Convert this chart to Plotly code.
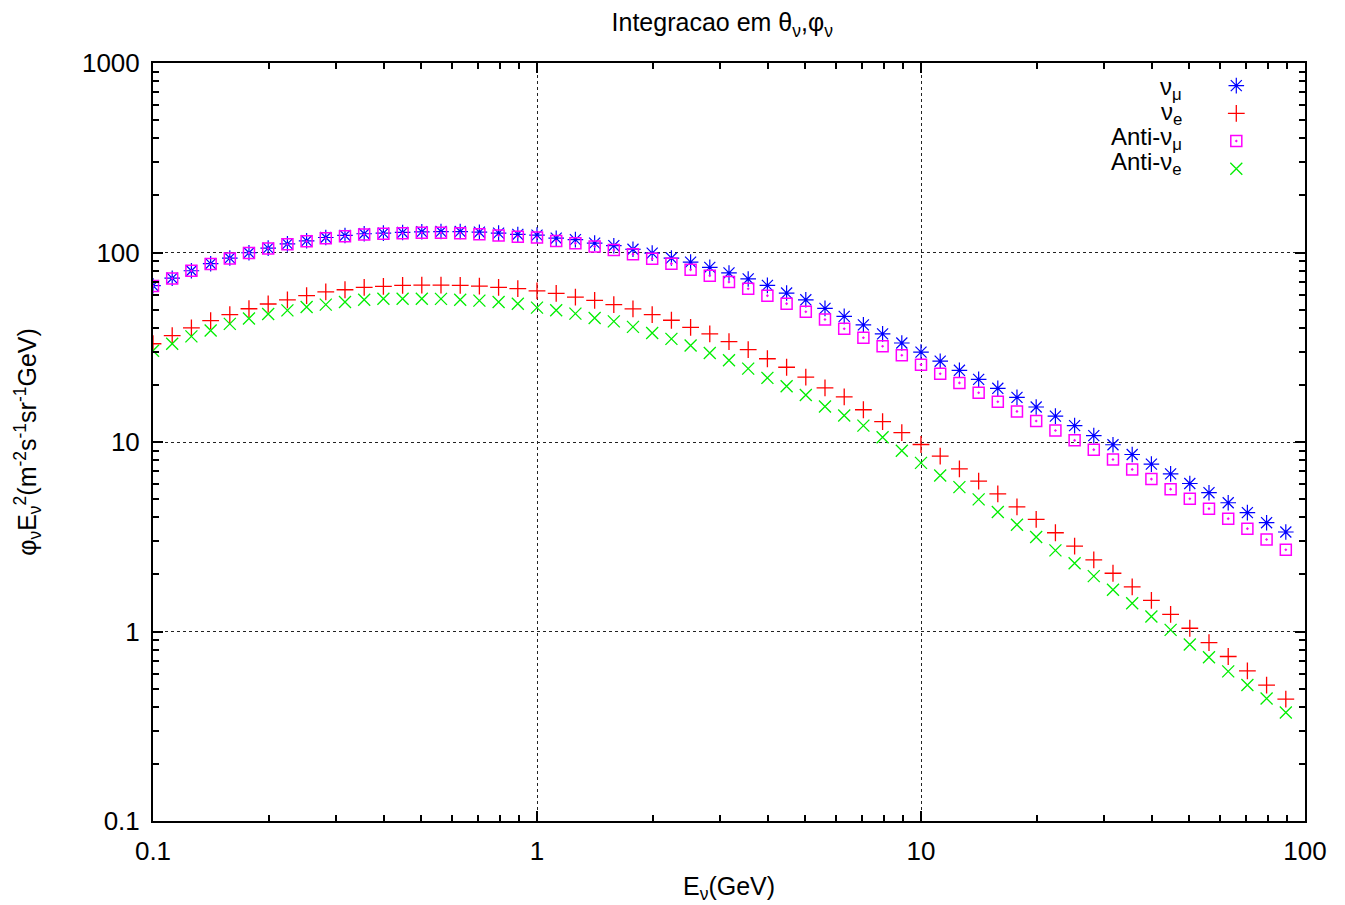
import plotly.graph_objects as go

# Energies (GeV)
energy = [0.1, 0.1122, 0.1259, 0.1413, 0.1585, 0.1778, 0.1995, 0.2239, 0.2512, 0.2818,
          0.3162, 0.3548, 0.3981, 0.4467, 0.5012, 0.5623, 0.6310, 0.7079, 0.7943, 0.8913,
          1.0, 1.122, 1.259, 1.413, 1.585, 1.778, 1.995, 2.239, 2.512, 2.818,
          3.162, 3.548, 3.981, 4.467, 5.012, 5.623, 6.310, 7.079, 7.943, 8.913,
          10.0, 11.22, 12.59, 14.13, 15.85, 17.78, 19.95, 22.39, 25.12, 28.18,
          31.62, 35.48, 39.81, 44.67, 50.12, 56.23, 63.10, 70.79, 79.43, 89.13]

nu_mu = [66.8, 73.2, 80.1, 87.3, 93.5, 99.7, 105.5, 111, 115.3, 120,
         123, 125.6, 126.6, 127.6, 128.6, 129, 129, 128, 126.6, 124.5,
         123.5, 119, 117, 112, 108.6, 104, 99.3, 93.5, 89, 83.5,
         78, 72.5, 67.1, 61.1, 56.3, 50.7, 46, 41.5, 37.2, 33.3,
         29.8, 26.7, 23.9, 21.4, 19.2, 17.2, 15.3, 13.7, 12.2, 10.8,
         9.67, 8.59, 7.64, 6.79, 6.04, 5.40, 4.78, 4.24, 3.75, 3.35]

nu_e = [33.0, 36.4, 40, 43.7, 47, 50.5, 53.5, 56.3, 59.2, 61.9,
        63.6, 65.5, 66.3, 67.1, 67.3, 67.3, 67.1, 66.5, 65.5, 64.4,
        62.8, 60.8, 58.2, 55.9, 53.1, 50.4, 47, 43.9, 40.3, 37.2,
        33.9, 30.7, 27.5, 24.8, 22, 19.3, 17.3, 14.8, 12.8, 11.2,
        9.7, 8.42, 7.22, 6.22, 5.33, 4.55, 3.91, 3.32, 2.82, 2.39,
        2.03, 1.72, 1.46, 1.23, 1.04, 0.874, 0.738, 0.620, 0.521, 0.440]

anti_nu_mu = [66.5, 73, 80, 87, 93, 99.5, 105, 110.5, 114.5, 119,
              122, 124.5, 125.5, 126.5, 127, 127, 126.5, 125, 123, 121,
              120, 115, 112, 107.6, 103, 98, 92.7, 87.3, 81, 75.4,
              69.8, 64.4, 59.2, 53.7, 48.7, 44.3, 39.6, 35.5, 32, 28.7,
              25.6, 22.9, 20.5, 18.2, 16.3, 14.5, 12.9, 11.5, 10.2, 9.11,
              8.09, 7.17, 6.37, 5.64, 5.02, 4.45, 3.94, 3.49, 3.06, 2.70]

anti_nu_e = [30.3, 33, 36.1, 38.8, 42, 44.8, 47.4, 49.5, 51.6, 53.1,
             54.8, 56.3, 57, 57, 57, 56.9, 56.3, 55.7, 54.8, 53.7,
             51.2, 49.6, 47.6, 45.1, 43.3, 40.5, 37.6, 35, 32.3, 29.5,
             27, 24.4, 21.8, 19.7, 17.7, 15.4, 13.8, 12.2, 10.6, 9.0,
             7.76, 6.66, 5.78, 4.98, 4.27, 3.66, 3.15, 2.68, 2.29, 1.96,
             1.66, 1.41, 1.20, 1.02, 0.854, 0.731, 0.616, 0.522, 0.443, 0.374]

labels = ["ν<sub>μ</sub>", "ν<sub>e</sub>", "Anti-ν<sub>μ</sub>", "Anti-ν<sub>e</sub>"]
x_ticks = [0.1, 1, 10, 100]
x_ticktext = ["0.1", "1", "10", "100"]
y_ticks = [0.1, 1, 10, 100, 1000]
y_ticktext = ["0.1", "1", "10", "100", "1000"]

FONT = "Liberation Sans, Arial, sans-serif"

series = [
    (nu_mu, "asterisk-open", "#0000ff", 13, 1.2),
    (nu_e, "cross-thin-open", "#ff0000", 12, 1.3),
    (anti_nu_mu, "square-open-dot", "#ff00ff", 11, 1.5),
    (anti_nu_e, "x-thin-open", "#00ee00", 12, 1.3),
]

fig = go.Figure()
for (vals, sym, col, size, lw), lab in zip(series, labels):
    fig.add_trace(go.Scatter(
        x=energy, y=vals, mode="markers", name=" ",
        marker=dict(symbol=sym, size=size, color=col, line=dict(color=col, width=lw)),
    ))

# legend labels (right-justified text left of the legend symbols, gnuplot style)
label_y = [0.967, 0.934, 0.900, 0.867]
for lab, yy in zip(labels, label_y):
    fig.add_annotation(xref="paper", yref="paper", x=0.895, y=yy, xanchor="right",
                       yanchor="middle", text=lab, showarrow=False,
                       font=dict(family=FONT, size=24, color="black"))

axis_common = dict(
    type="log", showline=True, linecolor="black", linewidth=2, mirror="ticks",
    ticks="inside", ticklen=10, tickwidth=1.5, tickcolor="black",
    showgrid=True, gridcolor="#222222", gridwidth=1, griddash="dot",
    zeroline=False, tickfont=dict(family=FONT, size=26, color="black"),
    automargin=False,
    minor=dict(ticks="inside", ticklen=6, tickwidth=1.5, tickcolor="black",
               dtick="D1", showgrid=False),
)

fig.update_xaxes(range=[-1, 2], tickvals=x_ticks, ticktext=x_ticktext, ticklabelstandoff=6,
                 title=dict(text="E<sub>ν</sub>(GeV)", font=dict(family=FONT, size=25, color="black"),
                            standoff=12),
                 **axis_common)
fig.update_yaxes(range=[-1, 3], tickvals=y_ticks, ticktext=y_ticktext, ticklabelstandoff=6,
                 title=dict(text="φ<sub>ν</sub>E<sub>ν</sub><sup>2</sup>(m<sup>-2</sup>s<sup>-1</sup>sr<sup>-1</sup>GeV)",
                            font=dict(family=FONT, size=25, color="black"), standoff=38),
                 **axis_common)

fig.update_layout(
    width=1345, height=905,
    margin=dict(l=153, r=40, t=63, b=84),
    paper_bgcolor="white", plot_bgcolor="white",
    title=dict(text="Integracao em θ<sub>ν</sub>,φ<sub>ν</sub>", x=0.537, xanchor="center",
               y=0.975, yanchor="middle", font=dict(family=FONT, size=25, color="black")),
    showlegend=True,
    legend=dict(x=0.923, y=0.995, xanchor="left", yanchor="top", bgcolor="rgba(0,0,0,0)",
                font=dict(family=FONT, size=19), itemwidth=30, tracegroupgap=0),
    font=dict(family=FONT, color="black"),
)

fig.write_html("out.html")
